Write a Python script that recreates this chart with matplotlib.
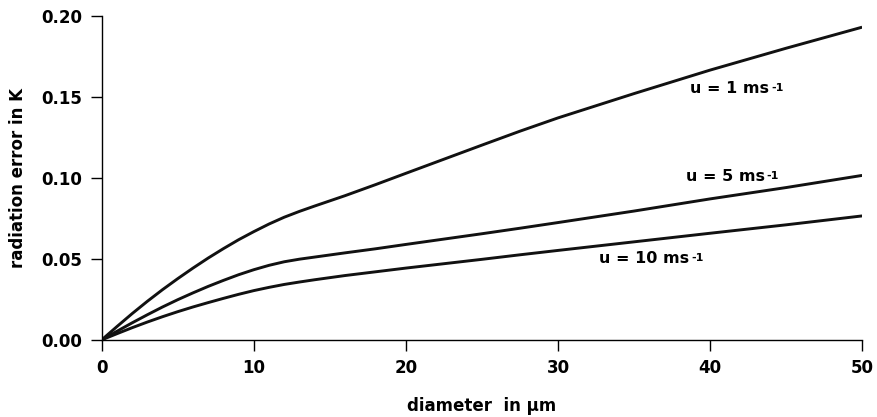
import matplotlib
matplotlib.use("Agg")
import matplotlib.pyplot as plt

plt.rcParams['font.family'] = ['DejaVu Sans']
plt.rcParams['font.weight'] = 'bold'

# values
diameter = [0, 1, 2, 3, 4, 5, 6, 7, 8, 9, 10, 11, 12, 13, 14, 15, 16, 18, 20,
            22.5, 25, 27.5, 30, 35, 40, 45, 50]
err_u1 = [0, 0.0082, 0.0162, 0.0238, 0.031, 0.0378, 0.0443, 0.0505, 0.0563,
          0.0618, 0.0668, 0.0715, 0.0757, 0.0793, 0.0826, 0.0858, 0.089,
          0.0958, 0.1028, 0.1115, 0.1202, 0.1288, 0.137, 0.152, 0.1665, 0.180, 0.193]
err_u5 = [0, 0.0053, 0.0105, 0.0155, 0.0203, 0.0248, 0.029, 0.033, 0.0367,
          0.0402, 0.0433, 0.046, 0.0482, 0.0498, 0.0511, 0.0524, 0.0537,
          0.0562, 0.0589, 0.0622, 0.0655, 0.0689, 0.0724, 0.0795, 0.087, 0.094, 0.1015]
err_u10 = [0, 0.0038, 0.0075, 0.011, 0.0143, 0.0174, 0.0203, 0.023, 0.0256,
           0.0281, 0.0304, 0.0324, 0.0342, 0.0357, 0.0371, 0.0384, 0.0397,
           0.042, 0.0443, 0.047, 0.0497, 0.0525, 0.0552, 0.0605, 0.0658, 0.071, 0.0765]

labels = ["u = 1 ms", "u = 5 ms", "u = 10 ms"]
label_pos = [(38.7, 0.155), (38.4, 0.101), (32.7, 0.0505)]

fig = plt.figure(figsize=(8.77, 4.17), dpi=100)
ax = fig.add_axes([0.116, 0.185, 0.867, 0.777])

for ys in (err_u1, err_u5, err_u10):
    ax.plot(diameter, ys, color='#111111', lw=2.1, solid_capstyle='butt',
            solid_joinstyle='round')

for txt, (lx, ly) in zip(labels, label_pos):
    t = ax.text(lx, ly, txt, fontsize=11.5, fontweight='bold', ha='left', va='center')
    # small raised "-1" after the unit
    ax.annotate("-1", xy=(1, 1), xycoords=t, xytext=(1.5, -1.5),
                textcoords='offset points', fontsize=8, fontweight='bold',
                ha='left', va='top')

ax.set_xlim(0, 50)
ax.set_ylim(0, 0.20)
ax.set_xticks([0, 10, 20, 30, 40, 50])
ax.set_yticks([0.00, 0.05, 0.10, 0.15, 0.20])
ax.set_yticklabels(["0.00", "0.05", "0.10", "0.15", "0.20"])

for s in ('top', 'right'):
    ax.spines[s].set_visible(False)
for s in ('left', 'bottom'):
    ax.spines[s].set_linewidth(1.0)

ax.tick_params(axis='both', direction='out', length=8, width=1.0,
               labelsize=12, pad=6)
for lab in ax.get_xticklabels() + ax.get_yticklabels():
    lab.set_fontweight('bold')

ax.set_xlabel("diameter  in µm", fontsize=12, fontweight='bold', labelpad=14)
ax.set_ylabel("radiation error in K", fontsize=12, fontweight='bold', labelpad=10)

fig.savefig("out.png", dpi=100)
